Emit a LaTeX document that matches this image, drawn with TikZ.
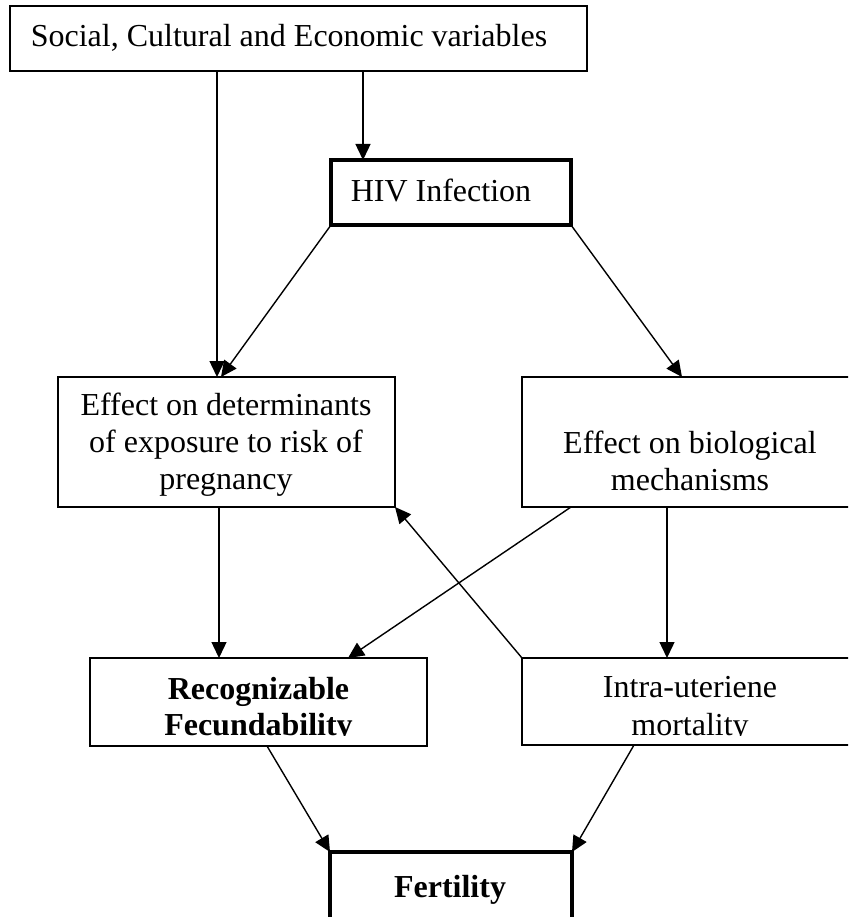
\documentclass[tikz,border=0pt]{standalone}
\usepackage{fontspec}
\setmainfont{Liberation Serif}
\usetikzlibrary{arrows.meta}
\begin{document}
\begin{tikzpicture}[x=1pt,y=-1pt,
  box/.style={draw, rectangle, inner sep=0pt, outer sep=0pt, anchor=north west},
  txt/.style={inner sep=0pt, anchor=base, font=\fontsize{32}{37}\selectfont},
  btxt/.style={inner sep=0pt, anchor=base, font=\fontsize{32}{37}\selectfont\bfseries},
  arr/.style={line width=1.4pt, -{Triangle[length=16pt,width=15pt]}}]
\useasboundingbox (0,0) rectangle (848,917);
\clip (0,0) rectangle (848,917);
% boxes
\node[box, line width=2pt, minimum width=577pt, minimum height=65pt] (soc) at (10,6) {};
\node[box, line width=3.5pt, minimum width=240pt, minimum height=65pt] (hiv) at (331,160) {};
\node[box, line width=1.7pt, minimum width=337pt, minimum height=130pt] (det) at (58,377) {};
\node[box, line width=1.7pt, minimum width=340pt, minimum height=130pt] (bio) at (522,377) {};
\node[box, line width=2.3pt, minimum width=337pt, minimum height=88pt] (rec) at (90,658) {};
\node[box, line width=1.7pt, minimum width=340pt, minimum height=87pt] (intra) at (522,658) {};
\node[box, line width=4.7pt, minimum width=242pt, minimum height=75pt] (fert) at (330,852) {};
% texts
\node[txt] (soct) at (289,46.7) {Social, Cultural and Economic variables};
\node[txt] (hivt) at (441,201.7) {HIV Infection};
\node[txt] (det1) at (226,415.7) {Effect on determinants};
\node[txt] (det2) at (226,452.7) {of exposure to risk of};
\node[txt] (det3) at (226,489.5) {pregnancy};
\node[txt] (bio1) at (690,453) {Effect on biological};
\node[txt] (bio2) at (690,490) {mechanisms};
\begin{scope}
\clip (0,600) rectangle (848,735.3);
\node[btxt] (rec1) at (258.5,699) {Recognizable};
\node[btxt] (rec2) at (258.5,735) {Fecundability};
\node[txt] (int1) at (690,697.3) {Intra-uteriene};
\node[txt] (int2) at (690,735) {mortality};
\end{scope}
\node[btxt] (fertt) at (450,897) {Fertility};
% connectors
\draw[arr] ([xshift=207pt]soc.south west) -- ([xshift=159pt]det.north west);
\draw[arr] ([xshift=353pt]soc.south west) -- ([xshift=32pt]hiv.north west);
\draw[arr] (hiv.south west) -- ([xshift=163pt]det.north west);
\draw[arr] (hiv.south east) -- ([xshift=160pt]bio.north west);
\draw[arr] ([xshift=161pt]det.south west) -- ([xshift=129pt]rec.north west);
\draw[arr] ([xshift=49pt]bio.south west) -- ([xshift=258pt]rec.north west);
\draw[arr] ([xshift=145pt]bio.south west) -- ([xshift=145pt]intra.north west);
\draw[arr] (intra.north west) -- (det.south east);
\draw[arr] ([xshift=177pt]rec.south west) -- (fert.north west);
\draw[arr] ([xshift=112pt]intra.south west) -- (fert.north east);
\end{tikzpicture}
\end{document}
